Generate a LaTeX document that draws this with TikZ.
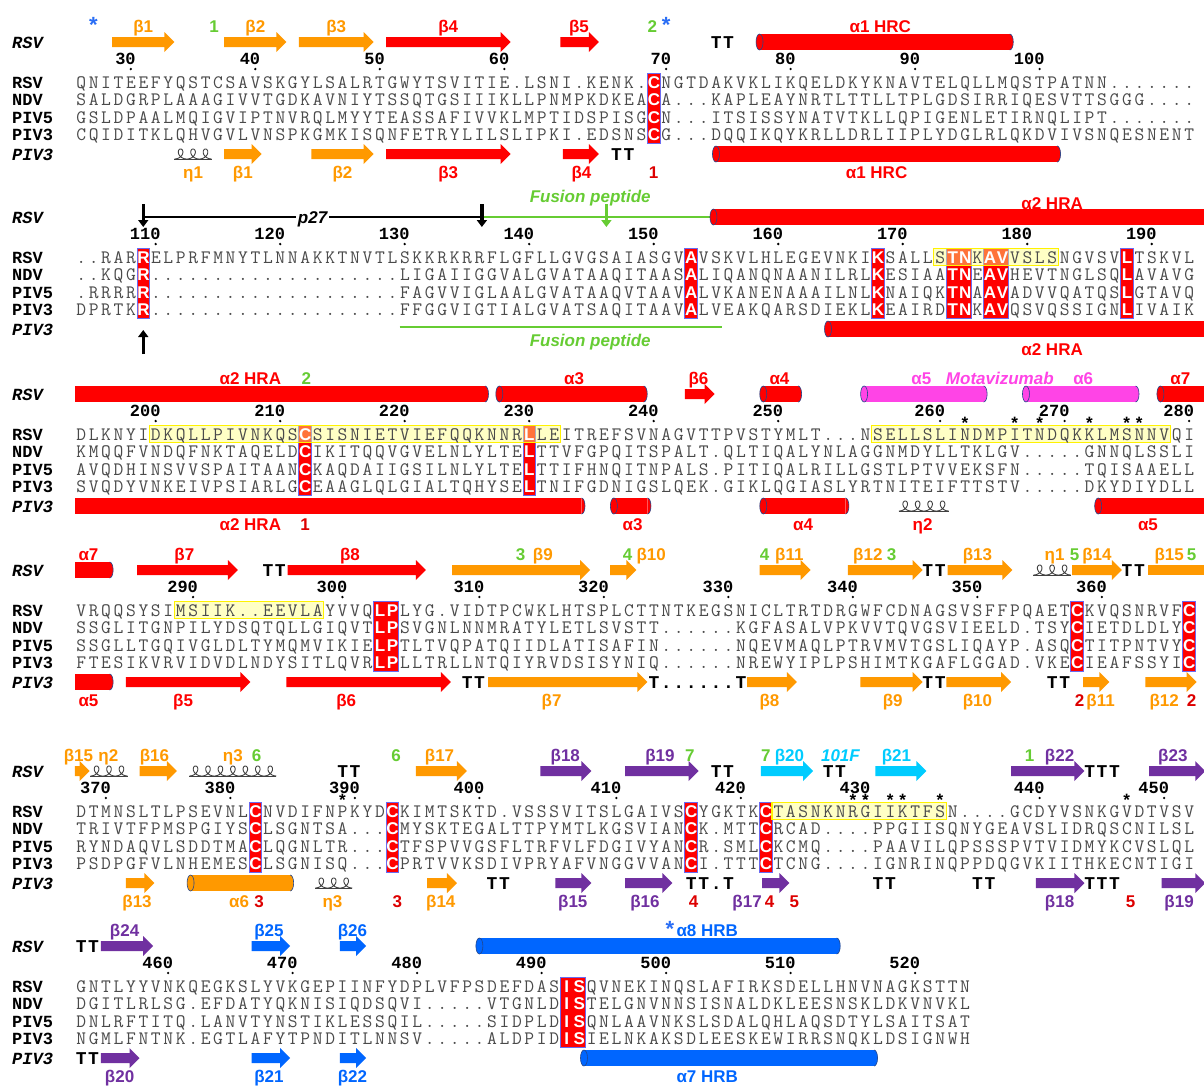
\documentclass[tikz,border=0pt]{standalone}
\usepackage{fontspec}
\usetikzlibrary{arrows.meta}
\newfontfamily\lsans{Liberation Sans}
\newfontfamily\lmono{Liberation Mono}

\definecolor{hlblue}{HTML}{6A6AF0}
\definecolor{seqgray}{HTML}{4A4A4A}
\definecolor{orng}{HTML}{FF9900}
\definecolor{grn}{HTML}{66CC33}
\definecolor{purp}{HTML}{7030A0}
\definecolor{cyn}{HTML}{00CCFF}
\definecolor{blu}{HTML}{0066FF}
\definecolor{mag}{HTML}{FF44E6}
\definecolor{dred}{HTML}{DD0000}
\definecolor{starblue}{HTML}{2A6EF5}
\definecolor{hedgec}{HTML}{23468C}
\definecolor{coilc}{HTML}{404040}
\definecolor{ylw}{HTML}{FFFF80}

\newlength\colw
\setlength\colw{12.45pt}
\newcounter{lbl}

\makeatletter
\newcommand\res[1]{\@tfor\rch:=#1\do{\makebox[\colw]{\expandafter\reschar\rch}}}
\makeatother
\newcommand\reschar[1]{\ifnum`#1>96\relax{\fontsize{17}{17}\lsans\bfseries\color{white}\uppercase{#1}}\else#1\fi}

\tikzstyle{seqrow}=[inner sep=0pt, anchor=base west, text=seqgray, font=\fontsize{19}{19}\selectfont\ttfamily]
\tikzstyle{rowlab}=[inner sep=0pt, anchor=base west, font=\fontsize{17}{17}\selectfont\lmono\bfseries]
\tikzstyle{annlab}=[rowlab, font=\fontsize{17}{17}\selectfont\lmono\bfseries\itshape]
\tikzstyle{resnum}=[inner sep=0pt, anchor=base east, font=\fontsize{17}{17}\selectfont\lmono\bfseries]
\tikzstyle{ttmark}=[inner sep=0pt, anchor=base west, font=\fontsize{18}{18}\selectfont\lmono\bfseries]
\tikzstyle{sslab}=[inner sep=0pt, anchor=base, font=\fontsize{17}{17}\selectfont\lsans\bfseries]
\tikzstyle{starlab}=[inner sep=0pt, anchor=base, font=\fontsize{17}{17}\selectfont\lmono\bfseries]
\tikzstyle{bstar}=[sslab, text=starblue, font=\fontsize{22}{22}\selectfont\lsans\bfseries]
\tikzstyle{hlbox}=[fill=red, draw=hlblue, line width=0.8pt]
\tikzstyle{ylwbox}=[fill=ylw, fill opacity=0.45, draw=yellow, line width=1.3pt]
\tikzstyle{hedge}=[draw=hedgec, line width=0.6pt]
\tikzstyle{coilpath}=[draw=coilc, line width=0.9pt]
\tikzstyle{cutarrow}=[line width=3.5pt, -{Triangle[width=10pt,length=7pt]}]

\newcommand\helix[4]{%
  \fill[#1] (#3,{#2-8}) rectangle (#4,{#2+8});
  \filldraw[hedge, fill=#1] (#4,{#2+8}) arc[start angle=-90, end angle=90, x radius=3.5pt, y radius=8pt];
  \filldraw[hedge, fill=#1] (#3,#2) ellipse[x radius=3.5pt, y radius=8pt];}
\newcommand\helixc[4]{%
  \fill[#1] (#3,{#2-8}) rectangle (#4,{#2+8});
  \filldraw[hedge, fill=#1] (#4,{#2+8}) arc[start angle=-90, end angle=90, x radius=3.5pt, y radius=8pt];}
\newcommand\strand[4]{%
  \fill[#1] (#3,{#2-5}) -- ([xshift=-10pt]#4,{#2-5}) -- ([xshift=-10pt]#4,{#2-10}) -- (#4,#2)
    -- ([xshift=-10pt]#4,{#2+10}) -- ([xshift=-10pt]#4,{#2+5}) -- (#3,{#2+5}) -- cycle;}
\newcommand\strandc[4]{\fill[#1] (#3,{#2-5}) rectangle (#4,{#2+5});}
\newcommand\coil[3]{%
  \draw[coilpath] (#2,{#1+5}) -- ({#2+#3},{#1+5});
  \draw[coilpath, shift={(#2,#1)}] plot[domain={pi}:{(2*#3+1)*pi}, samples=200, variable=\t]
    ({(1.9815*\t - 5*sin(\t r) - 1.9815*pi)/12.45}, {-5*cos(\t r)});}
\newcommand\lab[4]{\stepcounter{lbl}\node[sslab, text=#3] (lab\arabic{lbl}) at (#1,#2) {#4};}
\newcommand\tmark[3]{\stepcounter{lbl}\node[ttmark] (tt\arabic{lbl}) at ({#2-0.5},#1) {\res{#3}};}
\newcommand\rnum[2]{\stepcounter{lbl}\node[resnum] (num\arabic{lbl}) at ([xshift=5.1pt]#2,22) {#1};
  \fill (#2,27) circle[radius=1.3pt];}
\newcommand\astk[1]{\stepcounter{lbl}\node[starlab] (st\arabic{lbl}) at (#1,35) {*};}
\newcommand\hlcol[2]{\filldraw[hlbox] ({#1-0.5},31) rectangle ({#2+0.5},101.5);}
\newcommand\ybox[2]{\filldraw[ylwbox] ({#1-0.5},31.5) rectangle ({#2+0.5},48.5);}
\newcommand\alnrows[4]{%
  \node[rowlab] (lrsv) at (-5.54,46) {RSV};
  \node[rowlab] (lndv) at (-5.54,63.5) {NDV};
  \node[rowlab] (lpiv5) at (-5.54,81) {PIV5};
  \node[rowlab] (lpiv3) at (-5.54,98.5) {PIV3};
  \node[seqrow] (rsv) at (-0.5,46) {\res{#1}};
  \node[seqrow] (ndv) at (-0.5,63.5) {\res{#2}};
  \node[seqrow] (piv5) at (-0.5,81) {\res{#3}};
  \node[seqrow] (piv3) at (-0.5,98.5) {\res{#4}};}

\begin{document}
\begin{tikzpicture}[x=12.45pt, y=-1pt]
\fill[white] (-6.506,0) rectangle (90.201,1085);
\useasboundingbox (-6.506,0) rectangle (90.201,1085);

\begin{scope}[yshift=-42pt]
\node[annlab] (rsvA) at (-5.54,6) {RSV};
\node[annlab] (pivA) at (-5.54,118) {PIV3};
\hlcol{46}{46}
\alnrows{QNITEEFYQSTCSAVSKGYLSALRTGWYTSVITIE.LSNI.KENK.cNGTDAKVKLIKQELDKYKNAVTELQLLMQSTPATNN.......}%
{SALDGRPLAAAGIVVTGDKAVNIYTSSQTGSIIIKLLPNMPKDKEAcA...KAPLEAYNRTLTTLLTPLGDSIRRIQESVTTSGGG....}%
{GSLDPAALMQIGVIPTNVRQLMYYTEASSAFIVVKLMPTIDSPISGcN...ITSISSYNATVTKLLQPIGENLETIRNQLIPT.......}%
{CQIDITKLQHVGVLVNSPKGMKISQNFETRYLILSLIPKI.EDSNScG...DQQIKQYKRLLDRLIIPLYDGLRLQKDVIVSNQESNENT}
\foreach \n/\cc in {30/4,40/14,50/24,60/34,70/47,80/57,90/67,100/77}{\rnum{\n}{\cc}}
\strand{orng}{0}{2.5}{7.5}
\strand{orng}{0}{11.5}{16.5}
\strand{orng}{0}{17.5}{23.5}
\strand{red}{0}{24.5}{34.5}
\strand{red}{0}{38.5}{41.6}
\tmark{6}{51}{TT}
\helix{red}{0}{54.5}{74.6}
\node[bstar] (bs1) at (1,-10) {*};
\lab{5}{-10}{orng}{β1}
\lab{10.7}{-10}{grn}{1}
\lab{14}{-10}{orng}{β2}
\lab{20.5}{-10}{orng}{β3}
\lab{29.5}{-10}{red}{β4}
\lab{40}{-10}{red}{β5}
\lab{45.9}{-10}{grn}{2}
\node[bstar] (bs2) at (47,-10) {*};
\lab{64.2}{-10}{red}{α1 HRC}
\coil{112}{7.5}{3}
\strand{orng}{112}{11.5}{14.5}
\strand{orng}{112}{18.5}{23.5}
\strand{red}{112}{24.5}{34.5}
\strand{red}{112}{38.7}{41.6}
\tmark{118}{43}{TT}
\helix{red}{112}{51}{78.4}
\lab{9}{136}{orng}{η1}
\lab{13}{136}{orng}{β1}
\lab{21}{136}{orng}{β2}
\lab{29.5}{136}{red}{β3}
\lab{40.2}{136}{red}{β4}
\lab{46}{136}{dred}{1}
\lab{63.9}{136}{red}{α1 HRC}
\end{scope}

\begin{scope}[yshift=-217pt]
\node[annlab] (rsvB) at (-5.54,6) {RSV};
\node[annlab] (pivB) at (-5.54,118) {PIV3};
\hlcol{5}{5}
\hlcol{49}{49}
\hlcol{64}{64}
\hlcol{70}{71}
\hlcol{73}{74}
\hlcol{84}{84}
\ybox{69}{78}
\alnrows{..RARrELPRFMNYTLNNAKKTNVTLSKKRKRRFLGFLLGVGSAIASGVaVSKVLHLEGEVNKIkSALLStnKavVSLSNGVSVlTSKVL}%
{..KQGr....................LIGAIIGGVALGVATAAQITAASaLIQANQNAANILRLkESIAAtnEavHEVTNGLSQlAVAVG}%
{.RRRRr....................FAGVVIGLAALGVATAAQVTAAVaLVKANENAAAILNLkNAIQKtnAavADVVQATQSlGTAVQ}%
{DPRTKr....................FFGGVIGTIALGVATSAQITAAVaLVEAKQARSDIEKLkEAIRDtnKavQSVQSSIGNlIVAIK}
\foreach \n/\cc in {110/6,120/16,130/26,140/36,150/46,160/56,170/66,180/76,190/86}{\rnum{\n}{\cc}}
\coordinate (p27a) at (5,0);
\coordinate (p27b) at (32.2,0);
\coordinate (fpend) at (50.8,0);
\draw[line width=2.5pt] (p27a) -- (p27b);
\draw[grn, line width=2.5pt] (p27b) -- (fpend);
\draw[cutarrow] (5,-13) -- (5,10);
\draw[cutarrow] (32.2,-13) -- (32.2,10);
\draw[cutarrow, grn, line width=3pt] (42.2,-13) -- (42.2,10);
\node[sslab, fill=white, inner sep=2pt] (p27) at (18.6,6) {\itshape p27};
\helix{red}{0}{50.8}{90.6}
\lab{40.9}{-15}{grn}{\itshape Fusion peptide}
\lab{78}{-8}{red}{α2 HRA}
\draw[grn, line width=2.5pt] (25.6,110) -- (51.5,110);
\helix{red}{112}{60}{90.6}
\draw[cutarrow] (5,137) -- (5,113);
\lab{40.9}{129}{grn}{\itshape Fusion peptide}
\lab{78}{138}{red}{α2 HRA}
\end{scope}

\begin{scope}[yshift=-394pt]
\node[annlab] (rsvC) at (-5.54,6) {RSV};
\node[annlab] (pivC) at (-5.54,118) {PIV3};
\hlcol{18}{18}
\hlcol{36}{36}
\ybox{6}{38}
\ybox{64}{87}
\alnrows{DLKNYIDKQLLPIVNKQScSISNIETVIEFQQKNNRlLEITREFSVNAGVTTPVSTYMLT...NSELLSLINDMPITNDQKKLMSNNVQI}%
{KMQQFVNDQFNKTAQELDcIKITQQVGVELNLYLTElTTVFGPQITSPALT.QLTIQALYNLAGGNMDYLLTKLGV.....GNNQLSSLI}%
{AVQDHINSVVSPAITAANcKAQDAIIGSILNLYLTElTTIFHNQITNPALS.PITIQALRILLGSTLPTVVEKSFN.....TQISAAELL}%
{SVQDYVNKEIVPSIARLGcEAAGLQLGIALTQHYSElTNIFGDNIGSLQEK.GIKLQGIASLYRTNITEIFTTSTV.....DKYDIYDLL}
\foreach \n/\cc in {200/6,210/16,220/26,230/36,240/46,250/56,260/69,270/79,280/89}{\rnum{\n}{\cc}}
\foreach \cc in {71,75,77,81,84,85}{\astk{\cc}}
\helixc{red}{0}{-0.45}{32.45}
\helix{red}{0}{33.6}{45.2}
\strand{red}{0}{48.5}{50.9}
\helix{red}{0}{54.8}{57.6}
\helix{mag}{0}{62.9}{72.5}
\helix{mag}{0}{75.9}{84.7}
\helix{red}{0}{86.7}{90.6}
\lab{13.6}{-10}{red}{α2 HRA}
\lab{18.1}{-10}{grn}{2}
\lab{39.6}{-10}{red}{α3}
\lab{49.6}{-10}{red}{β6}
\lab{56.1}{-10}{red}{α4}
\lab{67.5}{-10}{mag}{α5}
\lab{73.8}{-10}{mag}{\itshape Motavizumab}
\lab{80.5}{-10}{mag}{α6}
\lab{88.3}{-10}{red}{α7}
\helixc{red}{112}{-0.45}{40.2}
\helix{red}{112}{42.8}{45.5}
\helix{red}{112}{54.8}{61.4}
\coil{112}{65.7}{4}
\helix{red}{112}{81.7}{90.6}
\lab{13.6}{136}{red}{α2 HRA}
\lab{18}{136}{dred}{1}
\lab{44.3}{136}{red}{α3}
\lab{58}{136}{red}{α4}
\lab{67.6}{136}{red}{η2}
\lab{85.7}{136}{red}{α5}
\end{scope}

\begin{scope}[yshift=-570pt]
\node[annlab] (rsvD) at (-5.54,6) {RSV};
\node[annlab] (pivD) at (-5.54,118) {PIV3};
\hlcol{24}{25}
\hlcol{80}{80}
\hlcol{89}{89}
\ybox{8}{19}
\alnrows{VRQQSYSIMSIIK..EEVLAYVVQlpLYG.VIDTPCWKLHTSPLCTTNTKEGSNICLTRTDRGWFCDNAGSVSFFPQAETcKVQSNRVFc}%
{SSGLITGNPILYDSQTQLLGIQVTlpSVGNLNNMRATYLETLSVSTT......KGFASALVPKVVTQVGSVIEELD.TSYcIETDLDLYc}%
{SSGLLTGQIVGLDLTYMQMVIKIElpTLTVQPATQIIDLATISAFIN......NQEVMAQLPTRVMVTGSLIQAYP.ASQcTITPNTVYc}%
{FTESIKVRVIDVDLNDYSITLQVRlpLLTRLLNTQIYRVDSISYNIQ......NREWYIPLPSHIMTKGAFLGGAD.VKEcIEAFSSYIc}
\foreach \n/\cc in {290/9,300/21,310/32,320/42,330/52,340/62,350/72,360/82}{\rnum{\n}{\cc}}
\helixc{red}{0}{-0.5}{2.3}
\strand{red}{0}{4.5}{12.6}
\tmark{6}{15}{TT}
\strand{red}{0}{16.6}{27.7}
\strand{orng}{0}{29.8}{40.9}
\strand{orng}{0}{42.5}{44.6}
\strand{orng}{0}{54.5}{58.6}
\strand{orng}{0}{61.6}{67.6}
\tmark{6}{68}{TT}
\strand{orng}{0}{69.6}{74.8}
\coil{0}{76.5}{3}
\strand{orng}{0}{79.6}{83.6}
\tmark{6}{84}{TT}
\strandc{orng}{0}{85.7}{90.6}
\lab{0.6}{-10}{red}{α7}
\lab{8.3}{-10}{red}{β7}
\lab{21.6}{-10}{red}{β8}
\lab{35.3}{-10}{grn}{3}
\lab{37.1}{-10}{orng}{β9}
\lab{43.9}{-10}{grn}{4}
\lab{45.8}{-10}{orng}{β10}
\lab{54.9}{-10}{grn}{4}
\lab{56.9}{-10}{orng}{β11}
\lab{63.2}{-10}{orng}{β12}
\lab{65.1}{-10}{grn}{3}
\lab{72}{-10}{orng}{β13}
\lab{78.2}{-10}{orng}{η1}
\lab{79.8}{-10}{grn}{5}
\lab{81.6}{-10}{orng}{β14}
\lab{87.4}{-10}{orng}{β15}
\lab{89.2}{-10}{grn}{5}
\helixc{red}{112}{-0.5}{2.3}
\strand{red}{112}{3.6}{13.6}
\strand{red}{112}{16.5}{29.7}
\tmark{118}{31}{TT}
\strand{orng}{112}{32.7}{45.5}
\tmark{118}{46}{T......T}
\strand{orng}{112}{53.5}{57.5}
\strand{orng}{112}{62.6}{67.6}
\tmark{118}{68}{TT}
\strand{orng}{112}{69.5}{74.7}
\tmark{118}{78}{TT}
\strand{orng}{112}{80.5}{82.6}
\strand{orng}{112}{85.5}{89.6}
\lab{0.6}{136}{red}{α5}
\lab{8.2}{136}{red}{β5}
\lab{21.3}{136}{red}{β6}
\lab{37.8}{136}{orng}{β7}
\lab{55.3}{136}{orng}{β8}
\lab{65.2}{136}{orng}{β9}
\lab{72}{136}{orng}{β10}
\lab{80.2}{136}{dred}{2}
\lab{81.9}{136}{orng}{β11}
\lab{87}{136}{orng}{β12}
\lab{89.2}{136}{dred}{2}
\end{scope}

\begin{scope}[yshift=-771pt]
\node[annlab] (rsvE) at (-5.54,6) {RSV};
\node[annlab] (pivE) at (-5.54,118) {PIV3};
\hlcol{14}{14}
\hlcol{25}{25}
\hlcol{49}{49}
\hlcol{55}{55}
\ybox{56}{69}
\alnrows{DTMNSLTLPSEVNLcNVDIFNPKYDcKIMTSKTD.VSSSVITSLGAIVScYGKTKcTASNKNRGIIKTFSN....GCDYVSNKGVDTVSV}%
{TRIVTFPMSPGIYScLSGNTSA...cMYSKTEGALTTPYMTLKGSVIANcK.MTTcRCAD....PPGIISQNYGEAVSLIDRQSCNILSL}%
{RYNDAQVLSDDTMAcLQGNLTR...cTFSPVVGSFLTRFVLFDGIVYANcR.SMLcKCMQ....PAAVILQPSSSPVTVIDMYKCVSLQL}%
{PSDPGFVLNHEMEScLSGNISQ...cPRTVVKSDIVPRYAFVNGGVVANcI.TTTcTCNG....IGNRINQPPDQGVKIITHKECNTIGI}
\foreach \n/\cc in {370/2,380/12,390/22,400/32,410/43,420/53,430/63,440/77,450/87}{\rnum{\n}{\cc}}
\foreach \cc in {21,62,63,65,66,69,84}{\astk{\cc}}
\strand{orng}{0}{-0.5}{0.7}
\coil{0}{0.75}{3}
\strand{orng}{0}{4.7}{7.7}
\coil{0}{8.7}{7}
\tmark{6}{21}{TT}
\strand{orng}{0}{26.9}{31}
\strand{purp}{0}{36.9}{41}
\strand{purp}{0}{43.7}{49.6}
\tmark{6}{51}{TT}
\strand{cyn}{0}{54.6}{58.8}
\tmark{6}{60}{TT}
\strand{cyn}{0}{63.8}{67.9}
\strand{purp}{0}{74.7}{80.6}
\tmark{6}{81}{TTT}
\strand{purp}{0}{85.8}{90.3}
\lab{-0.2}{-10}{orng}{β15}
\lab{2.2}{-10}{orng}{η2}
\lab{5.9}{-10}{orng}{β16}
\lab{12.2}{-10}{orng}{η3}
\lab{14.1}{-10}{grn}{6}
\lab{25.3}{-10}{grn}{6}
\lab{28.8}{-10}{orng}{β17}
\lab{38.9}{-10}{purp}{β18}
\lab{46.5}{-10}{purp}{β19}
\lab{48.9}{-10}{grn}{7}
\lab{55}{-10}{grn}{7}
\lab{56.9}{-10}{cyn}{β20}
\lab{61}{-10}{cyn}{\itshape 101F}
\lab{65.5}{-10}{cyn}{β21}
\lab{76.2}{-10}{grn}{1}
\lab{78.6}{-10}{purp}{β22}
\lab{87.7}{-10}{purp}{β23}
\strand{orng}{112}{3.6}{5.9}
\helix{orng}{112}{8.8}{16.8}
\coil{112}{18.8}{3}
\strand{orng}{112}{27.8}{30.2}
\tmark{118}{33}{TT}
\strand{purp}{112}{38.1}{41}
\strand{purp}{112}{43.7}{47.5}
\tmark{118}{49}{TT.T}
\strand{purp}{112}{54.7}{56.9}
\tmark{118}{64}{TT}
\tmark{118}{72}{TT}
\strand{purp}{112}{76.7}{80.6}
\tmark{118}{81}{TTT}
\strand{purp}{112}{86.8}{90.3}
\lab{4.5}{136}{orng}{β13}
\lab{12.7}{136}{orng}{α6}
\lab{14.3}{136}{dred}{3}
\lab{20.2}{136}{orng}{η3}
\lab{25.4}{136}{dred}{3}
\lab{28.9}{136}{orng}{β14}
\lab{39.5}{136}{purp}{β15}
\lab{45.3}{136}{purp}{β16}
\lab{49.2}{136}{dred}{4}
\lab{53.5}{136}{purp}{β17}
\lab{55.3}{136}{dred}{4}
\lab{57.3}{136}{dred}{5}
\lab{78.6}{136}{purp}{β18}
\lab{84.3}{136}{dred}{5}
\lab{88.2}{136}{purp}{β19}
\end{scope}

\begin{scope}[yshift=-946pt]
\node[annlab] (rsvF) at (-5.54,6) {RSV};
\node[annlab] (pivF) at (-5.54,118) {PIV3};
\hlcol{39}{40}
\alnrows{GNTLYYVNKQEGKSLYVKGEPIINFYDPLVFPSDEFDASisQVNEKINQSLAFIRKSDELLHNVNAGKSTTN}%
{DGITLRLSG.EFDATYQKNISIQDSQVI.....VTGNLDisTELGNVNNSISNALDKLEESNSKLDKVNVKL}%
{DNLRFTITQ.LANVTYNSTIKLESSQIL.....SIDPLDisQNLAAVNKSLSDALQHLAQSDTYLSAITSAT}%
{NGMLFNTNK.EGTLAFYTPNDITLNNSV.....ALDPIDisIELNKAKSDLEESKEWIRRSNQKLDSIGNWH}
\foreach \n/\cc in {460/7,470/17,480/27,490/37,500/47,510/57,520/67}{\rnum{\n}{\cc}}
\tmark{6}{0}{TT}
\strand{purp}{0}{1.6}{5.8}
\strand{blu}{0}{13.7}{16.8}
\strand{blu}{0}{20.8}{22.9}
\helix{blu}{0}{32}{60.7}
\lab{3.5}{-10}{purp}{β24}
\lab{15.1}{-10}{blu}{β25}
\lab{21.8}{-10}{blu}{β26}
\node[bstar] (bs3) at (47.3,-10) {*};
\lab{50.3}{-10}{blu}{α8 HRB}
\tmark{118}{0}{TT}
\strand{purp}{112}{1.6}{4.7}
\strand{blu}{112}{13.7}{16.8}
\strand{blu}{112}{20.8}{22.9}
\helix{blu}{112}{40.4}{63.7}
\lab{3.1}{136}{purp}{β20}
\lab{15.1}{136}{blu}{β21}
\lab{21.8}{136}{blu}{β22}
\lab{50.3}{136}{blu}{α7 HRB}
\end{scope}
\end{tikzpicture}
\end{document}
